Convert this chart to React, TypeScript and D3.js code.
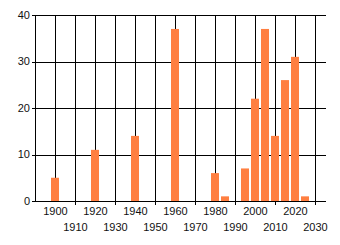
import React from "react";
import * as d3 from "d3";

const years = [1900, 1920, 1940, 1960, 1980, 1985, 1995, 2000, 2005, 2010, 2015, 2020, 2025];
const counts = [5, 11, 14, 37, 6, 1, 7, 22, 37, 14, 26, 31, 1];
const yTicks = [0, 10, 20, 30, 40];
const decadeTicks = [1900, 1910, 1920, 1930, 1940, 1950, 1960, 1970, 1980, 1990, 2000, 2010, 2020, 2030];

const W = 340;
const H = 245;

export default function App() {
  const x = d3.scaleLinear().domain([1890, 2035]).range([35, 325]);
  const y = d3.scaleLinear().domain([0, 40]).range([201, 15]);
  const px = (v: number) => Math.round(v) + 0.5;
  const font = "'Liberation Sans', Arial, sans-serif";
  const barW = 8;
  return (
    <svg width={W} height={H} style={{ position: "absolute", left: 0, top: 0, background: "#fff" }}>
      <rect x={0} y={0} width={W} height={H} fill="#fff" />
      {/* horizontal grid */}
      {yTicks.map((t) => (
        <line key={"h" + t} x1={32} x2={326} y1={px(y(t))} y2={px(y(t))} stroke="#000" strokeWidth={1} />
      ))}
      {/* left axis */}
      <line x1={px(x(1890))} x2={px(x(1890))} y1={y(40)} y2={y(0) + 1} stroke="#000" />
      {/* vertical grid */}
      {decadeTicks.map((t, i) => (
        <line
          key={"v" + t}
          x1={px(x(t))}
          x2={px(x(t))}
          y1={y(40)}
          y2={i % 2 === 1 ? y(0) + 4 : y(0) + 1}
          stroke="#000"
        />
      ))}
      {/* bars */}
      {years.map((yr, i) => (
        <rect
          key={"b" + yr}
          x={Math.round(x(yr)) - barW / 2}
          y={y(counts[i])}
          width={barW}
          height={Math.round(y(0)) - y(counts[i])}
          fill="#FF7F41"
        />
      ))}
      {/* y labels */}
      {yTicks.map((t) => (
        <text
          key={"yl" + t}
          x={30}
          y={y(t)}
          dy="0.36em"
          textAnchor="end"
          fontFamily={font}
          fontSize={11}
          fill="#111"
        >
          {t}
        </text>
      ))}
      {/* x labels */}
      {decadeTicks.map((t, i) => (
        <text
          key={"xl" + t}
          x={x(t) + 0.5}
          y={i % 2 === 0 ? 214.5 : 230.5}
          textAnchor="middle"
          fontFamily={font}
          fontSize={11}
          fill="#111"
        >
          {t}
        </text>
      ))}
    </svg>
  );
}
